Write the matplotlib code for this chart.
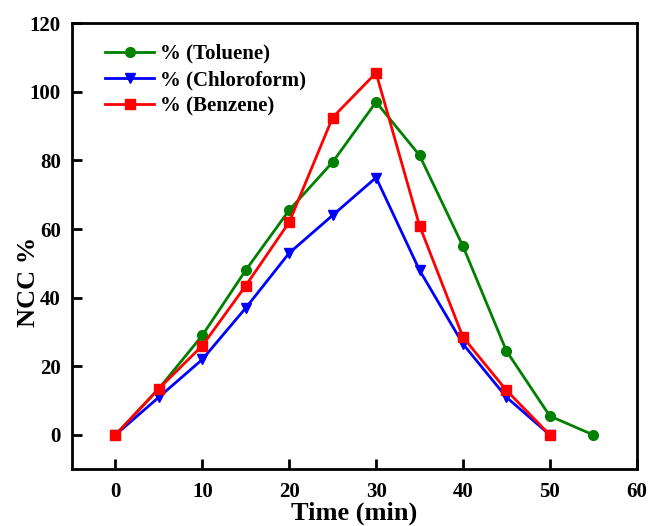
import matplotlib
matplotlib.use('Agg')
from matplotlib import pyplot as plt
import numpy as np

time_tol = [0, 5, 10, 15, 20, 25, 30, 35, 40, 45, 50, 55]
toluene = [0, 13.5, 29, 48, 65.5, 79.5, 97, 81.5, 55, 24.5, 5.5, 0]

time_cb = [0, 5, 10, 15, 20, 25, 30, 35, 40, 45, 50]
chloroform = [0, 11, 22, 37, 53, 64, 75, 48, 26.5, 11, 0]
benzene = [0, 13.5, 26, 43.5, 62, 92.5, 105.5, 61, 28.5, 13, 0]

plt.rcParams['font.family'] = 'Liberation Serif'
plt.rcParams['font.weight'] = 'bold'

fig = plt.figure(figsize=(6.49, 5.26), dpi=100)
ax = fig.add_axes([0.111, 0.108, 0.870, 0.848])

ax.plot(time_tol, toluene, color='green', marker='o', ms=7, lw=2, label='% (Toluene)')
ax.plot(time_cb, chloroform, color='blue', marker='v', ms=7.5, lw=2, label='% (Chloroform)')
ax.plot(time_cb, benzene, color='red', marker='s', ms=6.5, lw=2, label='% (Benzene)')

ax.set_xlim(-5, 60)
ax.set_ylim(-10, 120)
ax.set_xticks(np.arange(0, 61, 10))
ax.set_yticks(np.arange(0, 121, 20))
ax.tick_params(direction='in', length=7, width=2, labelsize=15, top=False, right=False)
ax.tick_params(axis='x', pad=9)
ax.tick_params(axis='y', pad=8)
for lab in ax.get_xticklabels() + ax.get_yticklabels():
    lab.set_fontweight('bold')
for sp in ax.spines.values():
    sp.set_linewidth(2)

ax.set_xlabel('Time (min)', fontsize=19, fontweight='bold', labelpad=0)
ax.set_ylabel('NCC %', fontsize=19, fontweight='bold')
ax.yaxis.set_label_coords(-0.057, 0.419)

ax.legend(loc='upper left', bbox_to_anchor=(0.044, 0.972), borderaxespad=0,
          frameon=False, handlelength=2.35, labelspacing=0.3, handletextpad=0.3,
          prop={'weight': 'bold', 'size': 15})

plt.savefig('out.png', dpi=100)
